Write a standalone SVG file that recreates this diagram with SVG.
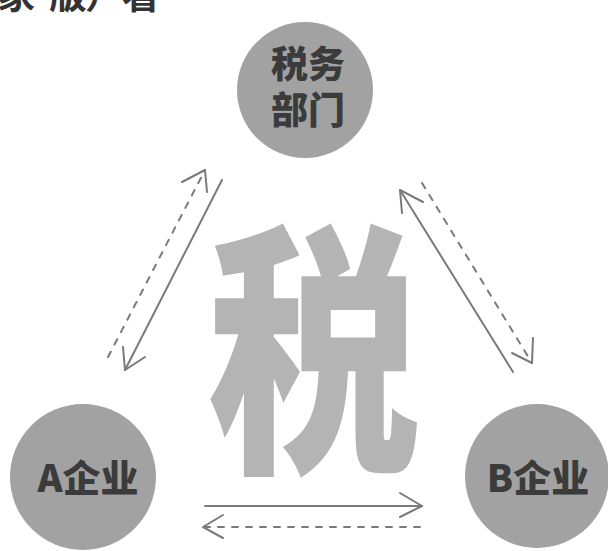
<svg xmlns="http://www.w3.org/2000/svg" width="608" height="551" viewBox="0 0 608 551">
<style>
.node{fill:#a2a2a2}
.lbl{font-family:"Noto Sans CJK SC","Noto Sans",sans-serif;font-weight:900;fill:#3b3b3b;text-anchor:middle}
.ln{fill:none;stroke:#7a7a7a;stroke-width:2;stroke-linecap:round;stroke-linejoin:round}
.dash{stroke-dasharray:6 8}
.big{font-family:"Noto Sans CJK SC",sans-serif;font-weight:900;fill:#b4b4b4;text-anchor:middle}
.hdr{font-family:"Noto Sans CJK SC",sans-serif;font-weight:700;fill:#333;font-size:38px}
</style>
<rect width="608" height="551" fill="#ffffff"/>
<g id="header">
<text class="hdr" x="-3" y="8">家</text>
<text class="hdr" x="49" y="8">版</text>
<text class="hdr" x="85" y="8">）</text>
<text class="hdr" x="122" y="8">看</text>
</g>
<g id="tax-char">
<text class="big" font-size="268" transform="translate(314,452) scale(0.79,1)" x="0" y="0">税</text>
</g>
<g id="connectors">
<line class="ln" x1="222" y1="180" x2="125" y2="370"/>
<polyline class="ln" points="145,357 125,370 123,347"/>
<line class="ln dash" x1="108" y1="357" x2="205" y2="170"/>
<polyline class="ln" points="182,182 205,170 207,192"/>
<line class="ln" x1="513" y1="372" x2="400" y2="190"/>
<polyline class="ln" points="423,202 400,190 402,213"/>
<line class="ln dash" x1="422" y1="183" x2="532" y2="363"/>
<polyline class="ln" points="512,353 532,363 533,338"/>
<line class="ln" x1="205" y1="506" x2="422" y2="506"/>
<polyline class="ln" points="400,493 422,506 400,517"/>
<line class="ln dash" x1="420" y1="527" x2="203" y2="527"/>
<polyline class="ln" points="223,515 203,527 223,538"/>
</g>
<g id="node-tax">
<circle class="node" cx="305" cy="90" r="68"/>
<text class="lbl" font-size="37" x="308" y="78">税务</text>
<text class="lbl" font-size="37" x="308" y="124">部门</text>
</g>
<g id="node-a">
<circle class="node" cx="83" cy="477" r="73"/>
<text class="lbl" font-size="38" x="88" y="492">A企业</text>
</g>
<g id="node-b">
<circle class="node" cx="537" cy="476" r="72"/>
<text class="lbl" font-size="38" x="538" y="492">B企业</text>
</g>
</svg>
